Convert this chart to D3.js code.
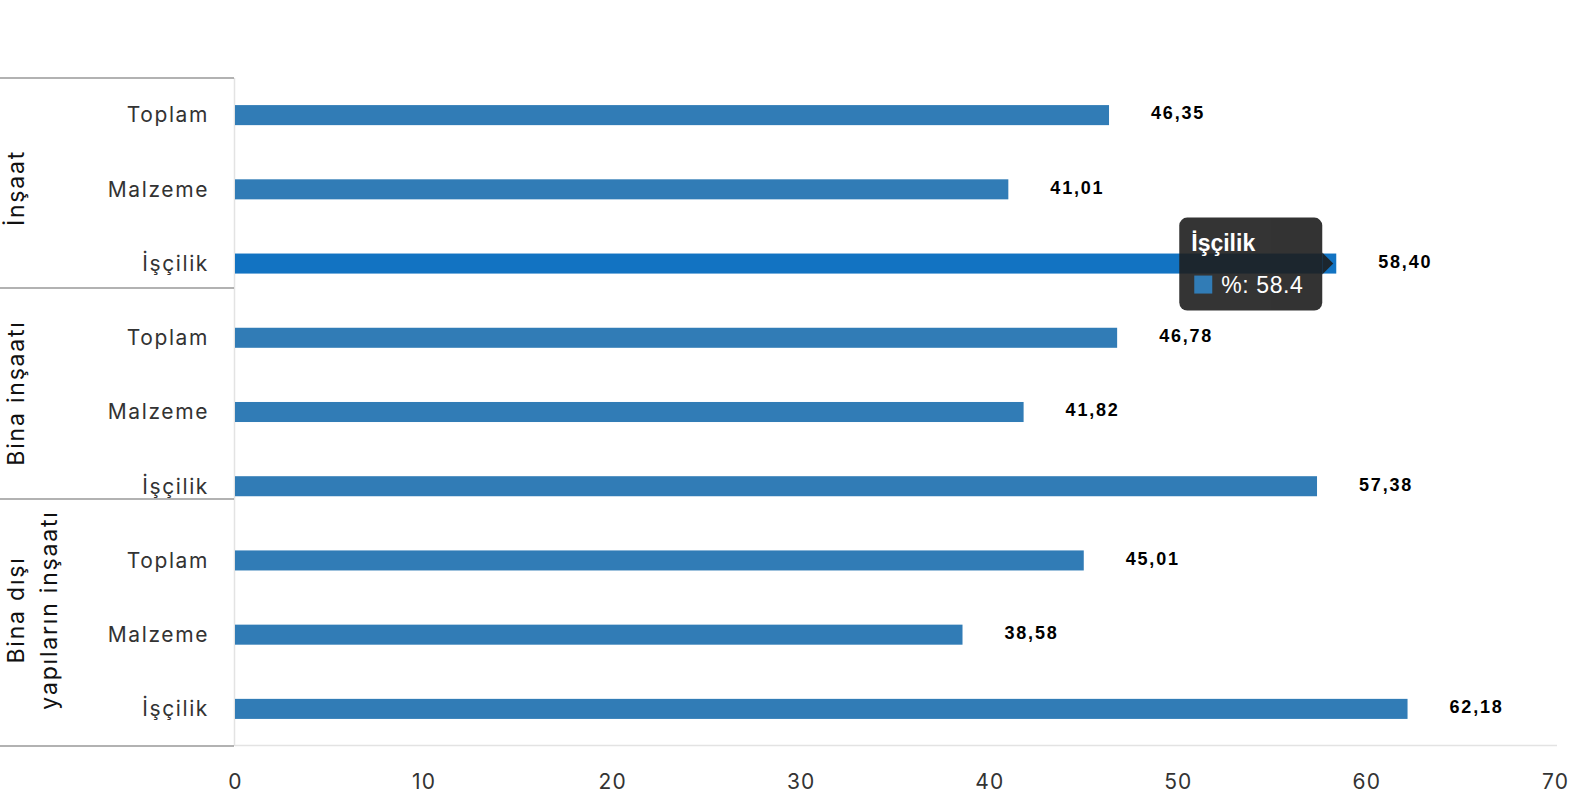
<!DOCTYPE html>
<html><head><meta charset="utf-8">
<script src="https://cdn.jsdelivr.net/npm/d3@7"></script>
<style>
html,body{margin:0;padding:0;background:#fff;}
svg{display:block;}
</style></head>
<body>
<svg id="c" width="1576" height="800"></svg>
<script>
const groups = ["İnşaat", "Bina inşaatı", "Bina dışı yapıların inşaatı"];
const groupLines = [["İnşaat"], ["Bina inşaatı"], ["Bina dışı", "yapıların inşaatı"]];
const categories = ["Toplam", "Malzeme", "İşçilik"];
const values = [
  [46.35, 41.01, 58.40],
  [46.78, 41.82, 57.38],
  [45.01, 38.58, 62.18]
];
const valueLabels = [
  ["46,35", "41,01", "58,40"],
  ["46,78", "41,82", "57,38"],
  ["45,01", "38,58", "62,18"]
];
const xTicks = [0, 10, 20, 30, 40, 50, 60, 70];
const highlighted = {group: 0, cat: 2};

(function () {
const rows = [];
groups.forEach((g, gi) => categories.forEach((c, ci) => rows.push({g, gi, c, ci, v: values[gi][ci], lab: valueLabels[gi][ci], key: gi + "-" + ci})));

const svg = d3.select("#c");
const mLeft = 235, mRight = 1555, mTop = 78, mBottom = 746;
const x = d3.scaleLinear().domain([0, 70]).range([mLeft, mRight]);
const y = d3.scaleBand().domain(rows.map(r => r.key)).range([mTop, mBottom]).paddingInner(0.73).paddingOuter(0.365);

const font = "Inter, 'Liberation Sans', Arial, sans-serif";
const bfont = "'Liberation Sans', Arial, sans-serif";

// axes lines
svg.append("line").attr("x1", mLeft).attr("x2", mRight + 2).attr("y1", mBottom - 0.5).attr("y2", mBottom - 0.5).attr("stroke", "#e3e3e3").attr("stroke-width", 1.5);
svg.append("line").attr("x1", mLeft - 0.5).attr("x2", mLeft - 0.5).attr("y1", mTop).attr("y2", mBottom).attr("stroke", "#e3e3e3").attr("stroke-width", 1.5);

// x axis
const xAxis = d3.axisBottom(x).tickValues(xTicks).tickSize(0).tickPadding(0).tickFormat(d3.format("d"));
const xg = svg.append("g").attr("transform", `translate(0,${mBottom})`).call(xAxis);
xg.select(".domain").remove();
xg.selectAll("text").attr("y", 43).attr("dy", 0).attr("fill", "#333").style("font-family", font).style("font-size", "21px").style("letter-spacing", "1.2px");

// y axis category labels
const yAxis = d3.axisLeft(y).tickSize(0).tickPadding(0).tickFormat(k => rows.find(r => r.key === k).c);
const yg = svg.append("g").attr("transform", `translate(${mLeft - 26},0)`).call(yAxis);
yg.select(".domain").remove();
yg.selectAll("text").attr("fill", "#333").attr("dy", "0.35em").style("font-family", font).style("font-size", "21px").style("letter-spacing", "1.6px");

// group separators
const sepY = [78, 288, 499, 746];
sepY.forEach(s => svg.append("line").attr("x1", 0).attr("x2", mLeft - 1).attr("y1", s).attr("y2", s).attr("stroke", "#666").attr("stroke-width", 1.2));

// group labels
const groupCenters = [188, 393, 610];
groupLines.forEach((lines, gi) => {
  const t = svg.append("text").attr("transform", `translate(${lines.length > 1 ? 33 : 16},${groupCenters[gi]}) rotate(-90)`)
    .attr("text-anchor", "middle").attr("fill", "#111").style("font-family", font).style("font-size", "23px").style("letter-spacing", "1.8px");
  lines.forEach((l, li) => t.append("tspan").attr("x", 0).attr("dy", li === 0 ? (lines.length > 1 ? "-0.38em" : "0.35em") : "1.42em").text(l));
});

// bars
svg.append("g").selectAll("rect").data(rows).join("rect")
  .attr("x", x(0)).attr("y", d => y(d.key)).attr("height", y.bandwidth())
  .attr("width", d => x(d.v) - x(0))
  .attr("fill", d => (d.gi === highlighted.group && d.ci === highlighted.cat) ? "#1273c2" : "#317cb6");

// value labels
svg.append("g").selectAll("text").data(rows).join("text")
  .attr("x", d => x(d.v) + 42).attr("y", d => y(d.key) + y.bandwidth() / 2 - 2).attr("dy", "0.35em")
  .attr("fill", "#000").style("font-family", bfont).style("font-weight", "bold").style("font-size", "18px").style("letter-spacing", "1.8px")
  .text(d => d.lab);

// tooltip
const hr = rows.find(r => r.gi === highlighted.group && r.ci === highlighted.cat);
const tipTip = x(hr.v) - 3;
const tipRight = x(hr.v) - 14;
const cy = y(hr.key) + y.bandwidth() / 2;
const tw = 143, th = 93;
const tx = tipRight - tw, ty = cy - 46;
const tip = svg.append("g").attr("opacity", 0.9);
tip.append("rect").attr("x", tx).attr("y", ty).attr("width", tw).attr("height", th).attr("rx", 8).attr("fill", "#1e1e1e");
tip.append("path").attr("d", `M${tipRight},${cy - 11}L${tipTip},${cy}L${tipRight},${cy + 11}Z`).attr("fill", "#1e1e1e");
svg.append("text").attr("x", tx + 12).attr("y", ty + 33).attr("fill", "#fff").style("font-family", bfont).style("font-weight", "bold").style("font-size", "23px").text(hr.c);
svg.append("rect").attr("x", tx + 15).attr("y", ty + 58).attr("width", 18).attr("height", 18).attr("fill", "#317cb6");
svg.append("text").attr("x", tx + 42).attr("y", ty + 75).attr("fill", "#fff").style("font-family", bfont).style("font-size", "23px").style("letter-spacing", "0.6px").text("%: " + d3.format(".1f")(hr.v));
})();
</script>
</body></html>
